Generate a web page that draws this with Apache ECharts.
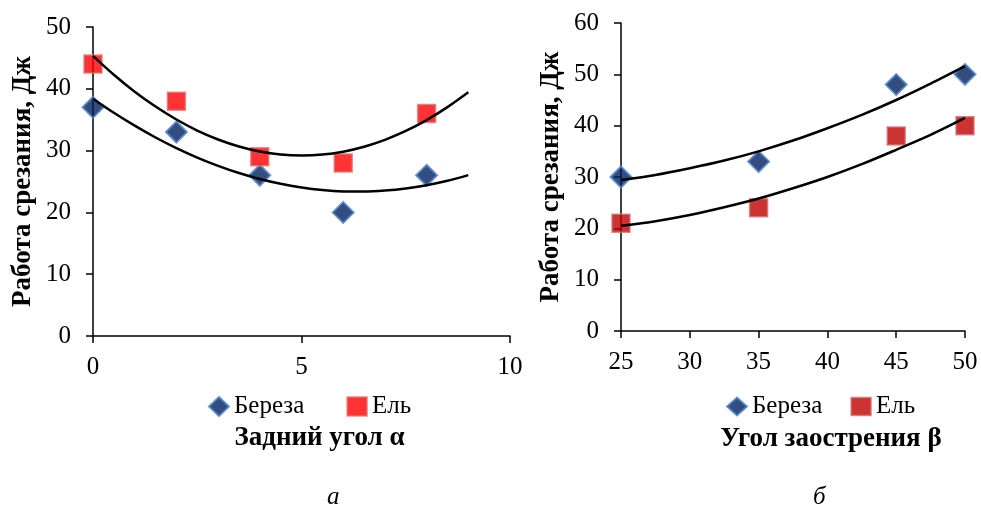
<!DOCTYPE html>
<html><head><meta charset="utf-8">
<script src="https://cdn.jsdelivr.net/npm/echarts@6/dist/echarts.min.js"></script>
<style>html,body{margin:0;padding:0;background:#fff}#c{width:981px;height:510px}</style>
</head><body><div id="c"></div>
<script>
// Chart a: rear angle
const xA = [0, 2, 4, 6, 8];
const birchA = [37, 33, 26, 20, 26];
const spruceA = [44, 38, 29, 28, 36];
const trendXA = [0, 0.5, 1, 1.5, 2, 2.5, 3, 3.5, 4, 4.5, 5, 5.5, 6, 6.5, 7, 7.5, 8, 8.5, 9];
const birchTrendA = [38.40, 36.12, 34.03, 32.12, 30.40, 28.87, 27.53, 26.37, 25.40, 24.62, 24.03, 23.62, 23.40, 23.37, 23.53, 23.87, 24.40, 25.12, 26.03];
const spruceTrendA = [45.34, 42.28, 39.54, 37.13, 35.03, 33.25, 31.80, 30.67, 29.86, 29.37, 29.20, 29.35, 29.83, 30.63, 31.74, 33.18, 34.94, 37.03, 39.43];
// Chart б: sharpening angle
const xB = [25, 35, 45, 50];
const birchB = [30, 33, 48, 50];
const spruceB = [21, 24, 38, 40];
const trendXB = [25, 27.5, 30, 32.5, 35, 37.5, 40, 42.5, 45, 47.5, 50];
const birchTrendB = [29.4, 30.4, 31.7, 33.2, 35.0, 37.1, 39.5, 42.1, 45.0, 48.2, 51.6];
const spruceTrendB = [20.5, 21.4, 22.6, 24.1, 25.8, 27.8, 30.0, 32.5, 35.3, 38.2, 41.5];

const FONT = '"Liberation Serif", "Times New Roman", serif';
const pairs = (xs, ys) => xs.map((x, i) => [x, ys[i]]);

const birchStyle = {color: '#002060', borderColor: '#4f84c4', borderWidth: 2};
const spruceStyleA = {color: '#ff0000', borderColor: '#e07878', borderWidth: 1.5};
const spruceStyleB = {color: '#c00000', borderColor: '#d07878', borderWidth: 1.5};

function xAxisCfg(idx, min, max, name, gap, shift) {
  return {
    type: 'value', gridIndex: idx, min: min, max: max, interval: 5,
    name: name, nameLocation: 'middle', nameGap: gap,
    nameTextStyle: {fontFamily: FONT, fontSize: 27, fontWeight: 'bold', color: '#000', padding: [0, 0, 0, shift * 2]},
    axisLine: {onZero: false, lineStyle: {color: '#000', width: 1.5}},
    axisTick: {show: true, length: 7, lineStyle: {color: '#000', width: 1.5}},
    axisLabel: {fontFamily: FONT, fontSize: 25, color: '#000', margin: 19},
    splitLine: {show: false}
  };
}
function yAxisCfg(idx, max) {
  return {
    type: 'value', gridIndex: idx, min: 0, max: max, interval: 10,
    name: 'Работа срезания, Дж', nameLocation: 'middle', nameGap: 56,
    nameTextStyle: {fontFamily: FONT, fontSize: 27, fontWeight: 'bold', color: '#000'},
    axisLine: {show: true, onZero: false, lineStyle: {color: '#000', width: 1.5}},
    axisTick: {show: true, length: 7, lineStyle: {color: '#000', width: 1.5}},
    axisLabel: {fontFamily: FONT, fontSize: 25, color: '#000', margin: 22},
    splitLine: {show: false}
  };
}

const chart = echarts.init(document.getElementById('c'), null, {renderer: 'canvas'});
chart.setOption({
  backgroundColor: '#fff',
  animation: false,
  grid: [
    {left: 93, width: 417, top: 27, height: 309},
    {left: 621, width: 344, top: 23, height: 308}
  ],
  xAxis: [xAxisCfg(0, 0, 10, 'Задний угол α', 89, 18), xAxisCfg(1, 25, 50, 'Угол заострения β', 95, 38)],
  yAxis: [yAxisCfg(0, 50), yAxisCfg(1, 60)],
  legend: [
    {left: 203, top: 389, itemWidth: 20, itemHeight: 19, itemGap: 42,
     textStyle: {fontFamily: FONT, fontSize: 25, color: '#000'},
     data: [{name: 'Береза', icon: 'diamond', itemStyle: birchStyle},
            {name: 'Ель', icon: 'rect', itemStyle: spruceStyleA}]},
    {left: 721, top: 389, itemWidth: 20, itemHeight: 18, itemGap: 28,
     textStyle: {fontFamily: FONT, fontSize: 25, color: '#000'},
     data: [{name: 'Береза', icon: 'diamond', itemStyle: birchStyle},
            {name: 'Ель', icon: 'rect', itemStyle: spruceStyleB}]}
  ],
  graphic: [
    {type: 'text', left: 327, top: 485, style: {text: 'а', font: 'italic 25px ' + FONT, fill: '#000'}},
    {type: 'text', left: 813, top: 485, style: {text: 'б', font: 'italic 25px ' + FONT, fill: '#000'}}
  ],
  series: [
    {type: 'scatter', name: 'Береза', xAxisIndex: 0, yAxisIndex: 0, symbol: 'diamond', symbolSize: 21,
     itemStyle: birchStyle, data: pairs(xA, birchA), z: 3},
    {type: 'scatter', name: 'Ель', xAxisIndex: 0, yAxisIndex: 0, symbol: 'rect', symbolSize: 18,
     itemStyle: spruceStyleA, data: pairs(xA, spruceA), z: 3},
    {type: 'line', xAxisIndex: 0, yAxisIndex: 0, smooth: 0.3, showSymbol: false, symbol: 'none',
     lineStyle: {color: '#000', width: 2.5}, data: pairs(trendXA, birchTrendA), z: 5},
    {type: 'line', xAxisIndex: 0, yAxisIndex: 0, smooth: 0.3, showSymbol: false, symbol: 'none',
     lineStyle: {color: '#000', width: 2.5}, data: pairs(trendXA, spruceTrendA), z: 5},
    {type: 'scatter', name: 'Береза', xAxisIndex: 1, yAxisIndex: 1, symbol: 'diamond', symbolSize: 21,
     itemStyle: birchStyle, data: pairs(xB, birchB), z: 3},
    {type: 'scatter', name: 'Ель', xAxisIndex: 1, yAxisIndex: 1, symbol: 'rect', symbolSize: 18,
     itemStyle: spruceStyleB, data: pairs(xB, spruceB), z: 3},
    {type: 'line', xAxisIndex: 1, yAxisIndex: 1, smooth: 0.3, showSymbol: false, symbol: 'none',
     lineStyle: {color: '#000', width: 2.5}, data: pairs(trendXB, birchTrendB), z: 5},
    {type: 'line', xAxisIndex: 1, yAxisIndex: 1, smooth: 0.3, showSymbol: false, symbol: 'none',
     lineStyle: {color: '#000', width: 2.5}, data: pairs(trendXB, spruceTrendB), z: 5}
  ]
});
</script></body></html>
